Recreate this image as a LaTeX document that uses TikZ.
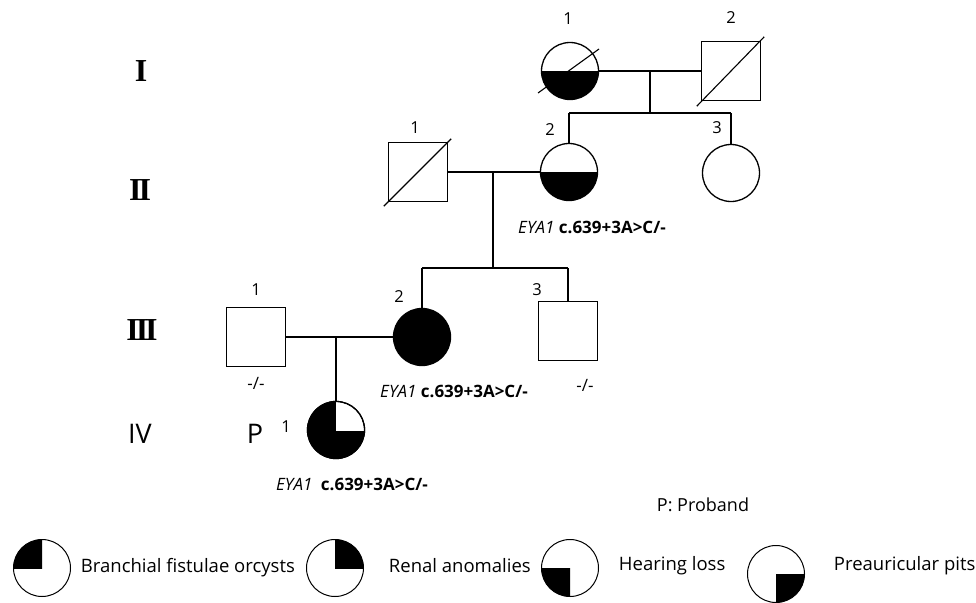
\documentclass[tikz,border=0pt]{standalone}
\usepackage{fontspec}
\setmainfont{Open Sans}
\newfontfamily\romanfont{Liberation Serif}
\usetikzlibrary{calc}
\begin{document}
\begin{tikzpicture}[x=1pt,y=-1pt,line width=1.3pt,
  female/.style={circle,draw,minimum size=57pt,inner sep=0pt},
  male/.style={rectangle,draw,minimum size=59pt,inner sep=0pt},
  num/.style={font=\fontsize{16.5}{18}\selectfont},
  geno/.style={font=\fontsize{17}{19}\selectfont},
  legtext/.style={anchor=west,font=\fontsize{18.5}{21}\selectfont},
  big/.style={font=\fontsize{27}{30}\selectfont},
  gen/.style={font=\romanfont\bfseries\fontsize{32}{35}\selectfont},
  legcirc/.style={circle,draw,line width=1pt,minimum size=57pt,inner sep=0pt},
  slash/.style={line width=1.1pt}]
\useasboundingbox (0,0) rectangle (976,602);
\fill[white] (0,0) rectangle (976,602);

% generation labels
\node[gen] (gI) at (141,71) {I};
\node[gen] (gII) at (140,190) {I\kern-3pt I};
\node[gen] (gIII) at (142,330) {I\kern-3pt I\kern-3pt I};
\node[big] (gIV) at (140,434) {IV};

% Generation I
\node[female] (I1) at (570,71) {};
\node[male] (I2) at (731,71) {};
% Generation II
\node[male] (II1) at (418,172) {};
\node[female] (II2) at (569,172) {};
\node[female] (II3) at (731,173) {};
% Generation III
\node[male] (III1) at (256,337) {};
\node[female,fill=black] (III2) at (422,337) {};
\node[male] (III3) at (568,331) {};
% Generation IV
\node[female,fill=black] (IV1) at (336,430) {};

% fills
\begin{scope}
  \clip (I1.west) rectangle (I1.east |- I1.south);
  \fill (I1.center) circle[radius=28.5];
\end{scope}
\begin{scope}
  \clip (II2.west) rectangle (II2.east |- II2.south);
  \fill (II2.center) circle[radius=28.5];
\end{scope}
\begin{scope}
  \clip (IV1.center) rectangle (IV1.east |- IV1.north);
  \fill[white] (IV1.center) circle[radius=28];
\end{scope}
\draw (IV1.center) circle[radius=28.5];

% deceased slashes
\draw[slash] ($(I1.center)+(-32,22)$) -- ($(I1.center)+(29,-22)$);
\draw[slash] ($(I2.south west)+(-4,5)$) -- ($(I2.north east)+(3,-4)$);
\draw[slash] ($(II1.south west)+(-4,4)$) -- ($(II1.north east)+(3,-3)$);

% connectors
\coordinate (mI) at (650,71);
\coordinate (sI) at (650,113);
\coordinate (sIl) at (569,113);
\coordinate (sIr) at (731,113);
\draw (I1.east) -- (I2.west);
\draw (mI) -- (sI);
\draw (sIl) -- (sIr);
\draw (sIl) -- (II2.north);
\draw (sIr) -- (II3.north);

\coordinate (mII) at (493,172);
\coordinate (sII) at (493,268);
\coordinate (sIIl) at (422,268);
\coordinate (sIIr) at (568,268);
\draw (II1.east) -- (II2.west);
\draw (mII) -- (sII);
\draw (sIIl) -- (sIIr);
\draw (sIIl) -- (III2.north);
\draw (sIIr) -- (III3.north);

\coordinate (mIII) at (336,337);
\draw (III1.east) -- (III2.west);
\draw (mIII) -- (IV1.north);

% numbers
\node[num] (nI1) at (568,19) {1};
\node[num] (nI2) at (731,18) {2};
\node[num] (nII1) at (415,128) {1};
\node[num] (nII2) at (550,130) {2};
\node[num] (nII3) at (717,128) {3};
\node[num] (nIII1) at (256,290) {1};
\node[num] (nIII2) at (399,297) {2};
\node[num] (nIII3) at (537,290) {3};
\node[big] (P) at (255,434) {P};
\node[num] (nIV1) at (286,427) {1};

% genotypes
\node[geno] (gtII2) at (592,227) {\textit{EYA1} \textbf{c.639+3A>C/-}};
\node[geno] (gtIII2) at (454,391) {\textit{EYA1} \textbf{c.639+3A>C/-}};
\node[geno] (gtIV1) at (352,484) {\textit{EYA1}\enspace\textbf{c.639+3A>C/-}};
\node[geno] (gtIII1) at (256,383) {-/-};
\node[geno] (gtIII3) at (585,385) {-/-};

\node[font=\fontsize{18}{20}\selectfont] (proband) at (703,505) {P: Proband};

% legend
\node[legcirc] (L1) at (42,568) {};
\begin{scope}
  \clip (L1.center) rectangle (L1.west |- L1.north);
  \fill (L1.center) circle[radius=28.5];
\end{scope}
\node[legtext] (T1) at (77,568) {Branchial fistulae orcysts};

\node[legcirc] (L2) at (335,568) {};
\begin{scope}
  \clip (L2.center) rectangle (L2.east |- L2.north);
  \fill (L2.center) circle[radius=28.5];
\end{scope}
\node[legtext] (T2) at (385,566) {Renal anomalies};

\node[legcirc] (L3) at (570,568) {};
\begin{scope}
  \clip (L3.center) rectangle (L3.west |- L3.south);
  \fill (L3.center) circle[radius=28.5];
\end{scope}
\node[legtext] (T3) at (615,566) {Hearing loss};

\node[legcirc] (L4) at (776,574) {};
\begin{scope}
  \clip (L4.center) rectangle (L4.east |- L4.south);
  \fill (L4.center) circle[radius=28.5];
\end{scope}
\node[legtext] (T4) at (830,566) {Preauricular pits};
\end{tikzpicture}
\end{document}
